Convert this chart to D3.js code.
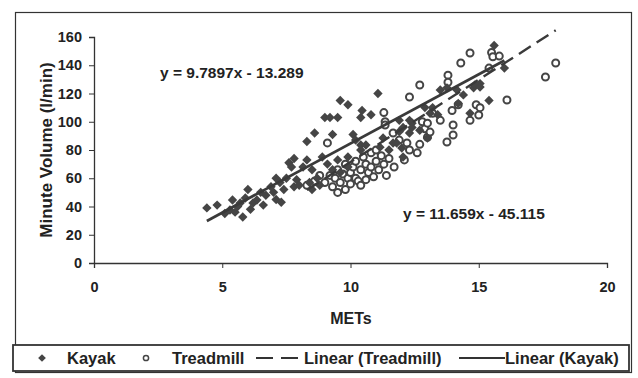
<!DOCTYPE html>
<html>
<head>
<meta charset="utf-8">
<script src="https://cdn.jsdelivr.net/npm/d3@7"></script>
<style>
body { margin: 0; background: #fff; }
text { font-family: "Liberation Sans", Arial, sans-serif; font-weight: bold; fill: #222; }
</style>
</head>
<body>
<div id="container"></div>
<script>
// kayak sessions: [METs, minute volume]
var kayakPts = [[4.4,39],[4.8,41],[5.1,35],[5.3,37.5],[5.4,44.6],[5.5,36],[5.6,40],[5.7,42.5],[5.8,32.6],[5.9,46],
  [6.0,52],[6.1,38],[6.2,42.5],[6.35,44.6],[6.5,50],[6.6,41],[6.7,48],[6.9,54],[7.0,50],[7.1,45],[7.1,60],[7.25,57],
  [7.3,43],[7.4,52],[7.5,60],[7.6,71],[7.7,68],[7.8,74],[7.8,54],[7.9,59],[8.0,55],[8.15,68],[8.3,73],[8.3,86],
  [8.4,57],[8.5,66],[8.5,52],[8.6,92],[8.7,60],[8.8,55],[8.9,75],[9.0,103],[9.1,70],[9.2,103],[9.3,91],[9.3,66],
  [9.5,103],[9.5,73],[9.6,115],[9.6,64],[9.9,112],[9.9,68],[9.9,75],[10.1,91],[10.2,87],[10.4,83.5],[10.4,80],
  [10.4,103],[10.45,108],[10.6,83.5],[10.8,105],[11.07,120],[11.15,82],[11.27,88.5],[11.5,80],[11.66,85],[11.8,85],
  [11.9,93],[11.9,101],[12.0,81.4],[12.05,96],[12.05,75],[12.3,92],[12.3,101],[12.4,99],[12.4,96],[12.7,94],
  [12.9,110],[13.0,88.5],[13.1,106],[13.2,110],[13.4,105],[13.5,122.5],[13.76,124],[14.15,122.5],[14.2,113],
  [14.4,119],[14.66,106],[14.8,124],[14.85,126],[15.05,127],[15.05,124.6],[15.4,115],[15.6,154],[16.0,138]];

// treadmill sessions: [METs, minute volume]
var treadmillPts = [[8.3,55],[8.6,58],[8.8,62],[9.0,57],[9.1,85],[9.2,62],[9.3,54],[9.4,60],[9.5,50],[9.5,66],
  [9.6,57],[9.7,63],[9.8,52],[9.8,70],[9.9,60],[10.0,64],[10.0,56],[10.1,68],[10.2,72],[10.2,60],[10.3,58],
  [10.4,55],[10.4,66],[10.5,75],[10.6,59],[10.6,70],[10.7,64],[10.8,78],[10.8,68],[10.9,61],[11.0,72],[11.0,80],
  [11.1,66],[11.2,76],[11.3,106.5],[11.3,70],[11.35,100],[11.35,97.7],[11.4,62],[11.5,74],[11.66,92],[11.7,68],
  [11.9,87],[12.1,73],[12.2,85],[12.3,80],[12.3,117.5],[12.6,78],[12.7,126],[12.7,84],[12.8,100],[12.9,95],
  [13.0,99],[13.0,89],[13.1,92.7],[13.2,106],[13.5,101],[13.76,85.7],[13.8,133],[13.8,128],[13.96,108],[14.0,97.7],
  [14.0,90.6],[14.2,112],[14.3,141.6],[14.66,148.7],[14.66,101],[14.9,112],[15.0,104.8],[15.05,110],[15.4,138],
  [15.5,149],[15.55,146],[15.8,146.5],[16.1,115.4],[17.6,131.7],[18.0,141.6]];

// trendline coefficients printed on the chart: [slope, intercept]
var kayakFit = [9.7897, -13.289];
var treadmillFit = [11.659, -45.115];
var xTicks = [0, 5, 10, 15, 20];
var yTicks = [0, 20, 40, 60, 80, 100, 120, 140, 160];

var W = 638, H = 378;
var svg = d3.select("#container").append("svg").attr("width", W).attr("height", H);

// outer frame
svg.append("rect").attr("x", 15.5).attr("y", 12.5).attr("width", 616).attr("height", 360)
  .attr("fill", "none").attr("stroke", "#333").attr("stroke-width", 1.2);

var x = d3.scaleLinear().domain([0, 20]).range([94, 607]);
var y = d3.scaleLinear().domain([0, 160]).range([263, 37]);

var yAxis = svg.append("g").attr("transform", "translate(94,0)")
  .call(d3.axisLeft(y).tickValues(yTicks).tickSize(5).tickPadding(7));
var xAxis = svg.append("g").attr("transform", "translate(0,263)")
  .call(d3.axisBottom(x).tickValues(xTicks).tickSize(5).tickPadding(14));
[xAxis, yAxis].forEach(function (a) {
  a.select(".domain").attr("stroke", "#333").attr("stroke-width", 1.3);
  a.selectAll(".tick line").attr("stroke", "#333");
  a.selectAll("text").style("font-size", "14.5px").attr("fill", "#222");
});

// axis titles
svg.append("text").attr("transform", "translate(52,150) rotate(-90)")
  .attr("text-anchor", "middle").style("font-size", "17px").text("Minute Volume (l/min)");
svg.append("text").attr("x", 351).attr("y", 324).attr("text-anchor", "middle")
  .style("font-size", "16px").text("METs");

// points
var ptColor = "#454545";
svg.append("g").selectAll("circle").data(treadmillPts).enter().append("circle")
  .attr("cx", function (d) { return x(d[0]); })
  .attr("cy", function (d) { return y(d[1]); })
  .attr("r", 3.5).attr("fill", "#fff").attr("stroke", ptColor).attr("stroke-width", 2);

var diamond = d3.symbol().type(d3.symbolSquare).size(44);
svg.append("g").selectAll("path").data(kayakPts).enter().append("path")
  .attr("d", diamond)
  .attr("transform", function (d) { return "translate(" + x(d[0]) + "," + y(d[1]) + ") rotate(45)"; })
  .attr("fill", ptColor);

// trendlines over the data range of each series
function fitLine(pts, fit) {
  var ext = d3.extent(pts, function (d) { return d[0]; });
  return ext.map(function (v) { return [v, fit[0] * v + fit[1]]; });
}
var line = d3.line().x(function (d) { return x(d[0]); }).y(function (d) { return y(d[1]); });
svg.append("path").datum(fitLine(treadmillPts, treadmillFit)).attr("d", line)
  .attr("fill", "none").attr("stroke", "#3a3a3a").attr("stroke-width", 2.4).attr("stroke-dasharray", "14,7");
svg.append("path").datum(fitLine(kayakPts, kayakFit)).attr("d", line)
  .attr("fill", "none").attr("stroke", "#3a3a3a").attr("stroke-width", 2.8);

// equations
svg.append("text").attr("x", 160).attr("y", 78).style("font-size", "15.5px").text("y = 9.7897x - 13.289");
svg.append("text").attr("x", 403).attr("y", 219).style("font-size", "15.5px").text("y = 11.659x - 45.115");

// legend
var lg = svg.append("g");
lg.append("rect").attr("x", 13).attr("y", 345).attr("width", 616).attr("height", 26)
  .attr("fill", "#fff").attr("stroke", "#333").attr("stroke-width", 1.8);
var ly = 358;
lg.append("path").attr("d", d3.symbol().type(d3.symbolSquare).size(30))
  .attr("transform", "translate(42," + ly + ") rotate(45)").attr("fill", ptColor);
lg.append("text").attr("x", 67).attr("y", ly + 6).style("font-size", "16.5px").text("Kayak");
lg.append("circle").attr("cx", 146).attr("cy", ly).attr("r", 2.6)
  .attr("fill", "#fff").attr("stroke", ptColor).attr("stroke-width", 1.5);
lg.append("text").attr("x", 172).attr("y", ly + 6).style("font-size", "16.5px").text("Treadmill");
lg.append("line").attr("x1", 256).attr("x2", 304).attr("y1", ly).attr("y2", ly)
  .attr("stroke", "#333").attr("stroke-width", 2).attr("stroke-dasharray", "17,8");
lg.append("text").attr("x", 304).attr("y", ly + 6).style("font-size", "16.5px").text("Linear (Treadmill)");
lg.append("line").attr("x1", 459).attr("x2", 505).attr("y1", ly).attr("y2", ly)
  .attr("stroke", "#333").attr("stroke-width", 2);
lg.append("text").attr("x", 505).attr("y", ly + 6).style("font-size", "16.5px").text("Linear (Kayak)");
</script>
</body>
</html>
